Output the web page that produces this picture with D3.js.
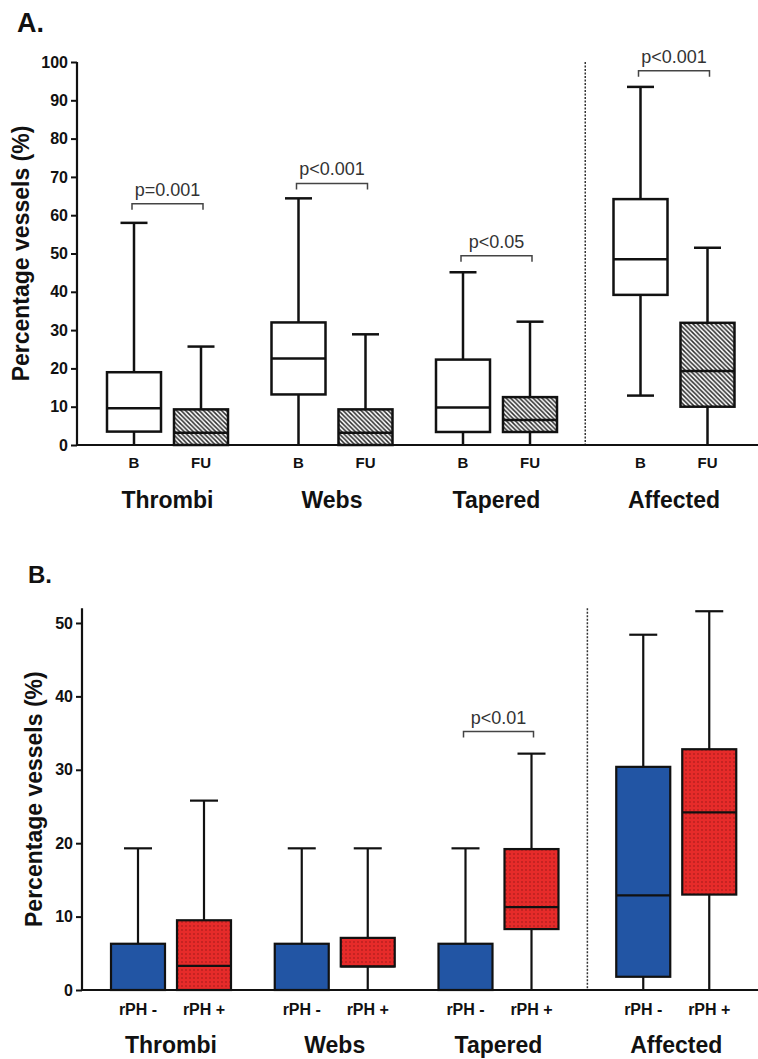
<!DOCTYPE html>
<html>
<head>
<meta charset="utf-8">
<title>Percentage vessels</title>
<script src="https://cdn.jsdelivr.net/npm/d3@7"></script>
<style>
  html, body { margin: 0; padding: 0; background: #fff; }
  svg text { font-family: "Liberation Sans", Arial, sans-serif; }
</style>
</head>
<body>
<div id="chart"></div>
<script>
// ---- data ----
var groups = ["Thrombi", "Webs", "Tapered", "Affected"];

// box stats per group: [min, q1, median, q3, max]
var seriesA = ["B", "FU"];
var aBaseline = [[0, 3.5, 9.6, 19.0, 58.0], [0, 13.2, 22.6, 32.0, 64.4], [0, 3.4, 9.8, 22.3, 45.1], [12.9, 39.2, 48.5, 64.2, 93.5]];
var aFollowUp = [[0, 0, 3.2, 9.3, 25.7], [0, 0, 3.2, 9.3, 28.9], [0, 3.4, 6.5, 12.5, 32.2], [0, 10.0, 19.3, 31.9, 51.5]];
var aPText = ["p=0.001", "p<0.001", "p<0.05", "p<0.001"];
var aPLevel = [63, 68.3, 49.4, 97.7];
var aTicks = [0, 10, 20, 30, 40, 50, 60, 70, 80, 90, 100];

var seriesB = ["rPH -", "rPH +"];
var bNeg = [[0, 0, 0, 6.3, 19.3], [0, 0, 0, 6.3, 19.3], [0, 0, 0, 6.3, 19.3], [0, 1.8, 12.9, 30.4, 48.4]];
var bPos = [[0, 0, 3.3, 9.5, 25.8], [0, 3.2, 3.2, 7.1, 19.3], [0, 8.3, 11.3, 19.2, 32.2], [0, 13.0, 24.2, 32.8, 51.6]];
var bPText = [null, null, "p<0.01", null];
var bPLevel = [null, null, 35.2, null];
var bTicks = [0, 10, 20, 30, 40, 50];

var yTitle = "Percentage vessels (%)";

// ---- svg ----
var width = 758, height = 1059;
var svg = d3.select("#chart").append("svg")
    .attr("width", width)
    .attr("height", height);

var defs = svg.append("defs");

// diagonal hatch for follow-up boxes
var hatch = defs.append("pattern")
    .attr("id", "hatch")
    .attr("patternUnits", "userSpaceOnUse")
    .attr("width", 4.5).attr("height", 4.5);
hatch.append("rect").attr("width", 4.5).attr("height", 4.5).attr("fill", "#fff");
hatch.append("path")
    .attr("d", "M-1,-1 L5.5,5.5 M-1,3.5 L1,5.5 M3.5,-1 L5.5,1")
    .attr("stroke", "#2e2e2e").attr("stroke-width", 1.5);

// dotted red for rPH+
var dots = defs.append("pattern")
    .attr("id", "reddots")
    .attr("patternUnits", "userSpaceOnUse")
    .attr("width", 4).attr("height", 4);
dots.append("rect").attr("width", 4).attr("height", 4).attr("fill", "#e62b2a");
dots.append("circle").attr("cx", 2).attr("cy", 2).attr("r", 0.7).attr("fill", "#8a1512");

function drawPanel(cfg) {
    var g = svg.append("g");

    var y = d3.scaleLinear()
        .domain(cfg.domain)
        .range([cfg.y0, cfg.y1]);

    // group positions; last group pushed a bit right past the divider
    var step = cfg.step;
    var x = d3.scaleBand()
        .domain(groups)
        .range([cfg.firstCenter - step / 2, cfg.firstCenter - step / 2 + step * groups.length])
        .padding(0);
    function center(gName) {
        return x(gName) + x.bandwidth() / 2 + (gName === "Affected" ? cfg.extra : 0);
    }
    var half = cfg.pairOffset, boxW = cfg.boxW, capW = cfg.capW;

    // dashed divider
    var divX = ((center("Tapered") + half + boxW / 2) + (center("Affected") - half - boxW / 2)) / 2;
    g.append("line")
        .attr("x1", divX).attr("x2", divX)
        .attr("y1", y(cfg.domain[1])).attr("y2", y(0))
        .attr("stroke", "#333").attr("stroke-width", 1.5)
        .attr("stroke-dasharray", "2,1.5");

    // y axis
    var yAxis = d3.axisLeft(y).tickValues(cfg.ticks).tickSize(6).tickPadding(3);
    var ya = g.append("g")
        .attr("transform", "translate(" + cfg.axisX + ",0)")
        .call(yAxis);
    ya.select(".domain").attr("stroke", "#111").attr("stroke-width", 2.2)
        .attr("d", "M0," + y(0) + "V" + y(cfg.domain[1]));
    ya.selectAll(".tick line").attr("stroke", "#111").attr("stroke-width", 2);
    ya.selectAll(".tick text")
        .attr("fill", "#111")
        .style("font-size", cfg.tickFont + "px")
        .style("font-weight", "bold");

    // x axis baseline
    g.append("line")
        .attr("x1", cfg.axisX).attr("x2", width)
        .attr("y1", y(0)).attr("y2", y(0))
        .attr("stroke", "#111").attr("stroke-width", 2.2);

    // y title
    g.append("text")
        .attr("transform", "translate(" + cfg.titleX + "," + ((y(0) + y(cfg.domain[1])) / 2) + ") rotate(-90)")
        .attr("text-anchor", "middle")
        .style("font-size", "23px")
        .style("font-weight", "bold")
        .attr("fill", "#111")
        .text(yTitle);

    // panel letter
    g.append("text")
        .attr("x", cfg.letterX).attr("y", cfg.letterY)
        .style("font-size", cfg.letterFont + "px")
        .style("font-weight", "bold")
        .attr("fill", "#111")
        .text(cfg.letter);

    // boxes
    cfg.series.forEach(function (s, si) {
        var stats = cfg.data[si];
        groups.forEach(function (gName, gi) {
            var d = stats[gi];
            var cx = center(gName) + (si === 0 ? -half : half);
            var bx = g.append("g");
            // whisker
            bx.append("line")
                .attr("x1", cx).attr("x2", cx)
                .attr("y1", y(d[0])).attr("y2", y(d[4]))
                .attr("stroke", "#111").attr("stroke-width", cfg.lineW);
            bx.append("line")
                .attr("x1", cx - capW / 2).attr("x2", cx + capW / 2)
                .attr("y1", y(d[4])).attr("y2", y(d[4]))
                .attr("stroke", "#111").attr("stroke-width", cfg.lineW);
            if (d[0] > 0) {
                bx.append("line")
                    .attr("x1", cx - capW / 2).attr("x2", cx + capW / 2)
                    .attr("y1", y(d[0])).attr("y2", y(d[0]))
                    .attr("stroke", "#111").attr("stroke-width", cfg.lineW);
            }
            // box
            bx.append("rect")
                .attr("x", cx - boxW / 2)
                .attr("y", y(d[3]))
                .attr("width", boxW)
                .attr("height", y(d[1]) - y(d[3]))
                .attr("fill", cfg.fills[si])
                .attr("stroke", "#111").attr("stroke-width", cfg.lineW);
            // median
            bx.append("line")
                .attr("x1", cx - boxW / 2).attr("x2", cx + boxW / 2)
                .attr("y1", y(d[2])).attr("y2", y(d[2]))
                .attr("stroke", "#111").attr("stroke-width", cfg.lineW);

            // category label
            g.append("text")
                .attr("x", cx).attr("y", cfg.catY)
                .attr("text-anchor", "middle")
                .style("font-size", cfg.catFont + "px")
                .style("font-weight", "bold")
                .attr("fill", "#111")
                .text(s);
        });
    });

    // group labels
    groups.forEach(function (gName) {
        g.append("text")
            .attr("x", center(gName)).attr("y", cfg.groupY)
            .attr("text-anchor", "middle")
            .style("font-size", "23px")
            .style("font-weight", "bold")
            .attr("fill", "#111")
            .text(gName);
    });

    // significance brackets
    groups.forEach(function (gName, gi) {
        if (!cfg.pText[gi]) return;
        var x1 = center(gName) - half - 2, x2 = center(gName) + half + 2;
        var by = y(cfg.pLevel[gi]);
        g.append("path")
            .attr("d", "M" + x1 + "," + (by + 6) + "V" + by + "H" + x2 + "V" + (by + 6))
            .attr("fill", "none")
            .attr("stroke", "#444").attr("stroke-width", 1.5);
        g.append("text")
            .attr("x", (x1 + x2) / 2).attr("y", by - 8)
            .attr("text-anchor", "middle")
            .style("font-size", "18px")
            .attr("fill", "#333")
            .text(cfg.pText[gi]);
    });
}

drawPanel({
    letter: "A.", letterX: 17, letterY: 32, letterFont: 27,
    domain: [0, 100], y0: 445, y1: 62, ticks: aTicks,
    axisX: 77, titleX: 29, tickFont: 16,
    firstCenter: 167.5, step: 164.5, extra: 13,
    pairOffset: 33.5, boxW: 54, capW: 27, lineW: 2.5,
    series: seriesA, data: [aBaseline, aFollowUp],
    fills: ["#fff", "url(#hatch)"],
    catY: 468, catFont: 15, groupY: 508,
    pText: aPText, pLevel: aPLevel
});

drawPanel({
    letter: "B.", letterX: 28, letterY: 583, letterFont: 24,
    domain: [0, 52], y0: 990, y1: 608.3, ticks: bTicks,
    axisX: 82, titleX: 42, tickFont: 16,
    firstCenter: 171, step: 163.75, extra: 14,
    pairOffset: 33, boxW: 54, capW: 28, lineW: 2.2,
    series: seriesB, data: [bNeg, bPos],
    fills: ["#2255a4", "url(#reddots)"],
    catY: 1015, catFont: 16, groupY: 1053,
    pText: bPText, pLevel: bPLevel
});
</script>
</body>
</html>
